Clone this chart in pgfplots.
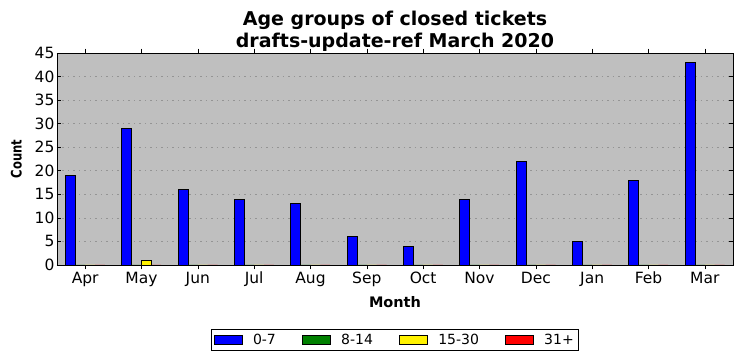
\documentclass[border=0pt]{standalone}
\usepackage{pgfplots}
\pgfplotsset{compat=1.18}
\usepackage{fontspec}
\setmainfont{DejaVu Sans}
\definecolor{bggray}{RGB}{191,191,191}
\begin{document}
\begin{tikzpicture}[x=1pt,y=1pt]
\begin{axis}[
  at={(0pt,0pt)}, anchor=south west,
  scale only axis, width=676pt, height=212pt,
  xmin=-0.5, xmax=11.5, ymin=0, ymax=45,
  xtick={0,...,11},
  xticklabels={Apr,May,Jun,Jul,Aug,Sep,Oct,Nov,Dec,Jan,Feb,Mar},
  ytick={0,5,...,45},
  tick align=inside,
  major tick length=4.5pt,
  minor tick num=0,
  axis background/.style={fill=bggray},
  ymajorgrids,
  grid style={black!42, dash pattern=on 1.5pt off 4pt, line width=0.6pt},
  tick style={black, line width=0.6pt},
  axis line style={black, line width=0.8pt},
  ticklabel style={font=\fontsize{15.5}{17}\selectfont},
  xticklabel style={yshift=1pt},
  yticklabel style={xshift=1pt},
  /pgf/number format/assume math mode=true,
  xlabel={\bfseries Month}, ylabel={\bfseries Count},
  xlabel style={font=\fontsize{14.5}{16}\selectfont, yshift=-3pt},
  ylabel style={font=\fontsize{14.5}{16}\selectfont, xscale=0.8, yshift=6pt},
  title={\bfseries Age groups of closed tickets\\ \bfseries drafts-update-ref March 2020},
  title style={font=\fontsize{19}{21.5}\selectfont, align=center, yshift=-7.5pt},
  ybar, bar width=0.175,
  legend columns=4,
  legend style={at={(0.5,0)}, yshift=-64pt, anchor=north, draw=black, line width=0.8pt, fill=white,
    font=\fontsize{14}{15.5}\selectfont, /tikz/every even column/.append style={column sep=24.5pt},
    /tikz/every odd column/.append style={column sep=8pt},
    inner xsep=3pt, inner ysep=2.5pt},
  legend image code/.code={\draw[#1,draw=black,line width=0.8pt] (0pt,-4.5pt) rectangle (28pt,4.5pt);},
]
\addplot[fill=blue, draw=black, line width=0.8pt, bar shift=-0.2625] coordinates {(0,19) (1,29) (2,16) (3,14) (4,13) (5,6) (6,4) (7,14) (8,22) (9,5) (10,18) (11,43)};
\addplot[fill={rgb,255:red,0;green,128;blue,0}, draw=black, line width=0.8pt, bar shift=-0.0875] coordinates {(0,0) (1,0) (2,0) (3,0) (4,0) (5,0) (6,0) (7,0) (8,0) (9,0) (10,0) (11,0)};
\addplot[fill=yellow, draw=black, line width=0.8pt, bar shift=0.0875] coordinates {(0,0) (1,1) (2,0) (3,0) (4,0) (5,0) (6,0) (7,0) (8,0) (9,0) (10,0) (11,0)};
\addplot[fill=red, draw=black, line width=0.8pt, bar shift=0.2625] coordinates {(0,0) (1,0) (2,0) (3,0) (4,0) (5,0) (6,0) (7,0) (8,0) (9,0) (10,0) (11,0)};
\legend{0-7,8-14,15-30,31+}
\end{axis}
\pgfresetboundingbox
\path (-57pt,-96pt) rectangle (685pt,265pt);
\end{tikzpicture}
\end{document}
